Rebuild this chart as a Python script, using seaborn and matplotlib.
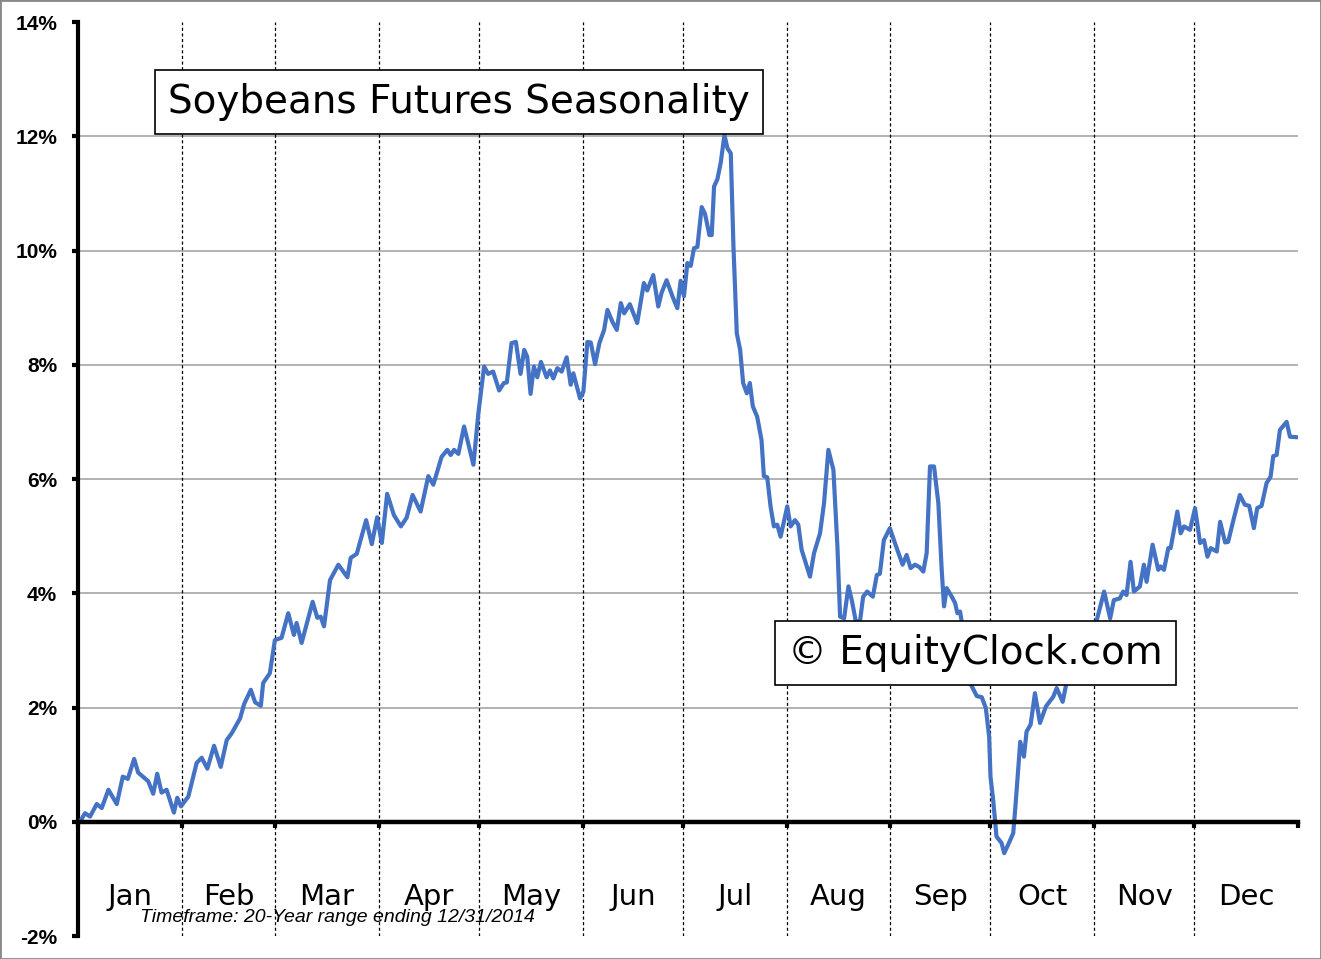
import matplotlib
matplotlib.use("Agg")
import matplotlib.pyplot as plt
import seaborn as sns
import pandas as pd
from matplotlib.patches import Rectangle

# ---- data (day of year, seasonal return in %) ----
days = [0.6, 2.1, 3.6, 5.6, 7.1, 9.1, 11.6, 13.4, 14.9, 16.8, 18.0, 21.0, 22.5, 23.7, 25.0, 26.5,
        28.7, 29.7, 30.8, 33.0, 35.5, 37.0, 38.7, 40.7, 42.7, 44.5, 46.0, 48.5, 49.7, 51.7, 53.0,
        54.7, 55.4, 57.4, 58.9, 60.9, 62.9, 64.6, 65.4, 66.9, 70.2, 71.6, 72.6, 73.6, 75.4, 77.9,
        80.6, 81.6, 83.4, 86.2, 87.9, 89.5, 90.9, 92.5, 94.5, 96.6, 98.3, 100.1, 102.5, 104.8,
        106.3, 108.8, 110.5, 111.5, 112.5, 113.8, 115.5, 118.3, 119.8, 121.5, 122.7, 124.2, 126.0,
        127.4, 128.3, 129.7, 131.0, 132.4, 133.5, 134.4, 135.4, 136.4, 137.4, 138.5, 140.2, 141.2,
        142.2, 143.4, 144.7, 146.2, 147.4, 148.2, 150.2, 151.2, 152.4, 153.4, 154.7, 156.0, 157.4,
        158.4, 159.9, 161.2, 162.4, 163.4, 165.1, 167.3, 169.3, 170.3, 172.1, 173.6, 174.6, 176.1,
        177.9, 179.3, 180.3, 181.3, 182.3, 183.3, 184.3, 185.3, 186.6, 187.6, 188.9, 189.6, 190.3,
        191.3, 192.3, 193.4, 194.3, 195.3, 196.1, 197.1, 198.1, 199.0, 200.1, 201.0, 201.9, 203.2,
        204.5, 205.2, 206.2, 207.2, 208.2, 209.2, 210.2, 212.2, 213.2, 214.5, 215.5, 216.5, 219.0,
        220.2, 222.0, 223.2, 224.5, 226.0, 227.2, 228.0, 229.2, 230.5, 231.5, 232.8, 234.0, 234.9,
        236.1, 237.8, 239.0, 239.9, 241.1, 242.9, 244.4, 246.7, 247.9, 249.1, 250.4, 251.7, 252.9,
        253.9, 254.9, 256.1, 257.4, 258.4, 259.1, 259.9, 261.4, 262.4, 263.1, 263.9, 264.4, 265.4,
        266.9, 268.9, 270.4, 271.6, 272.6, 273.0, 273.8, 274.8, 276.3, 277.1, 278.3, 279.8, 280.5,
        281.9, 283.0, 283.8, 285.0, 286.3, 287.8, 289.6, 291.8, 292.8, 294.6, 295.8, 298.3, 301.3,
        304.8, 307.0, 308.8, 309.9, 311.7, 312.7, 313.7, 314.9, 315.9, 317.7, 318.9, 319.7, 321.5,
        323.2, 323.9, 324.9, 326.2, 326.9, 328.9, 329.9, 330.9, 332.7, 334.2, 335.7, 336.9, 337.9,
        338.9, 340.7, 341.7, 343.2, 344.1, 345.8, 347.6, 349.1, 350.4, 351.8, 352.8, 354.1, 355.6,
        356.8, 357.6, 358.6, 359.6, 361.6, 362.6, 365.0]
values = [0.00, 0.15, 0.09, 0.31, 0.24, 0.56, 0.31, 0.79, 0.75, 1.10, 0.86, 0.71, 0.49, 0.84, 0.51,
          0.56, 0.16, 0.42, 0.27, 0.44, 1.03, 1.12, 0.93, 1.33, 0.96, 1.43, 1.55, 1.81, 2.06, 2.31,
          2.09, 2.03, 2.43, 2.60, 3.18, 3.22, 3.65, 3.27, 3.48, 3.13, 3.85, 3.57, 3.59, 3.42, 4.23,
          4.50, 4.28, 4.62, 4.69, 5.28, 4.86, 5.33, 4.88, 5.74, 5.37, 5.17, 5.32, 5.72, 5.43, 6.05,
          5.90, 6.39, 6.51, 6.42, 6.51, 6.44, 6.92, 6.25, 7.16, 7.97, 7.84, 7.88, 7.55, 7.68, 7.69,
          8.38, 8.40, 7.84, 8.26, 8.14, 7.49, 7.97, 7.78, 8.05, 7.78, 7.90, 7.76, 7.94, 7.88, 8.13,
          7.65, 7.85, 7.41, 7.53, 8.40, 8.39, 8.01, 8.38, 8.61, 8.96, 8.75, 8.61, 9.08, 8.90, 9.06,
          8.73, 9.43, 9.30, 9.57, 9.02, 9.26, 9.48, 9.19, 8.99, 9.47, 9.20, 9.78, 9.73, 10.04, 10.06,
          10.76, 10.64, 10.27, 10.27, 11.12, 11.25, 11.54, 12.02, 11.79, 11.70, 10.07, 8.55, 8.26,
          7.68, 7.50, 7.68, 7.27, 7.09, 6.68, 6.05, 6.03, 5.52, 5.17, 5.20, 4.99, 5.52, 5.17, 5.28,
          5.20, 4.76, 4.29, 4.70, 5.05, 5.58, 6.51, 6.16, 4.82, 3.59, 3.56, 4.12, 3.88, 3.48, 3.53,
          3.94, 4.03, 3.94, 4.32, 4.34, 4.93, 5.14, 4.88, 4.50, 4.67, 4.44, 4.50, 4.46, 4.38, 4.70,
          6.22, 6.22, 5.58, 4.41, 3.77, 4.09, 3.94, 3.83, 3.65, 3.68, 3.50, 3.10, 2.43, 2.20, 2.18,
          1.99, 1.49, 0.79, 0.38, -0.26, -0.37, -0.55, -0.40, -0.20, 0.30, 1.40, 1.14, 1.58, 1.70,
          2.25, 1.73, 2.02, 2.19, 2.34, 2.10, 2.45, 2.90, 3.25, 3.53, 4.03, 3.56, 3.88, 3.91, 4.03,
          3.97, 4.55, 4.03, 4.12, 4.50, 4.20, 4.85, 4.41, 4.47, 4.41, 4.79, 4.79, 5.43, 5.05, 5.17,
          5.11, 5.49, 4.88, 4.93, 4.64, 4.79, 4.73, 5.25, 4.89, 4.90, 5.31, 5.72, 5.55, 5.53, 5.14,
          5.49, 5.53, 5.93, 6.04, 6.40, 6.42, 6.86, 7.00, 6.74, 6.73]

months = ["Jan", "Feb", "Mar", "Apr", "May", "Jun", "Jul", "Aug", "Sep", "Oct", "Nov", "Dec"]
month_starts = [0, 31, 59, 90, 120, 151, 181, 212, 243, 273, 304, 334, 365]
y_ticks = [-2, 0, 2, 4, 6, 8, 10, 12, 14]
y_labels = ["-2%", "0%", "2%", "4%", "6%", "8%", "10%", "12%", "14%"]

title_text = "Soybeans Futures Seasonality"
watermark = "\u00a9 EquityClock.com"
footnote = "Timeframe: 20-Year range ending 12/31/2014"

df = pd.DataFrame({"day": days, "value": values})

sns.set_style("white")
plt.rcParams["font.family"] = ["DejaVu Sans"]
plt.rcParams["text.color"] = "black"
plt.rcParams["xtick.color"] = "black"
plt.rcParams["ytick.color"] = "black"
plt.rcParams["xtick.labelcolor"] = "black"
plt.rcParams["ytick.labelcolor"] = "black"

W, H = 1321, 959
fig = plt.figure(figsize=(W / 100, H / 100), dpi=100)
ax = fig.add_axes([78 / W, 1 - 936 / H, (1298 - 78) / W, (936 - 22) / H])

# gridlines
for yv in y_ticks:
    if yv not in (-2, 0, 14):
        ax.axhline(yv, color="#a6a6a6", lw=1.2, zorder=1)
for d in month_starts[1:12]:
    ax.axvline(d, color="black", lw=0.9, ls=(0, (2.5, 2)), zorder=1)

sns.lineplot(data=df, x="day", y="value", ax=ax, color="#4472C4", lw=3.0, zorder=3,
             estimator=None, sort=False)

ax.set_xlim(0, 365)
ax.set_ylim(-2, 14)
ax.set_xlabel("")
ax.set_ylabel("")

for s in ["top", "right"]:
    ax.spines[s].set_visible(False)
ax.spines["left"].set_linewidth(3)
ax.spines["left"].set_color("black")
ax.spines["bottom"].set_position(("data", 0))
ax.spines["bottom"].set_linewidth(3.2)
ax.spines["bottom"].set_color("black")
ax.spines["bottom"].set_zorder(4)

ax.set_yticks(y_ticks)
ax.set_yticklabels(y_labels, fontfamily="Liberation Sans", fontweight="bold", fontsize=15,
                   color="black")
ax.tick_params(axis="y", left=True, direction="out", length=4, width=3, pad=11, color="black")

ax.set_xticks(month_starts)
ax.set_xticklabels([])
ax.tick_params(axis="x", which="major", bottom=True, direction="out", length=4, width=3,
               color="black")
mids = [(month_starts[i] + month_starts[i + 1]) / 2 for i in range(12)]
ax.set_xticks(mids, minor=True)
ax.set_xticklabels(months, minor=True, fontsize=21, color="black")
ax.tick_params(axis="x", which="minor", bottom=True, length=0, pad=44)

# title box
fig.text(459 / W, 1 - 102 / H, title_text, fontsize=28, ha="center", va="center", color="black",
         bbox=dict(boxstyle="square,pad=0.33", fc="white", ec="black", lw=1.2), zorder=10)
fig.text(975.5 / W, 1 - 653 / H, watermark, fontsize=28, ha="center", va="center", color="black",
         bbox=dict(boxstyle="square,pad=0.33", fc="white", ec="black", lw=1.2), zorder=10)
fig.text(140 / W, 1 - 917 / H, footnote, fontsize=14, fontstyle="italic", color="black",
         fontfamily="Liberation Sans", ha="left", va="center", zorder=10)

fig.patches.append(Rectangle((0, 0), 1, 1, transform=fig.transFigure, fill=False,
                             ec="#888888", lw=2, zorder=20))

fig.savefig("out.png", dpi=100)
